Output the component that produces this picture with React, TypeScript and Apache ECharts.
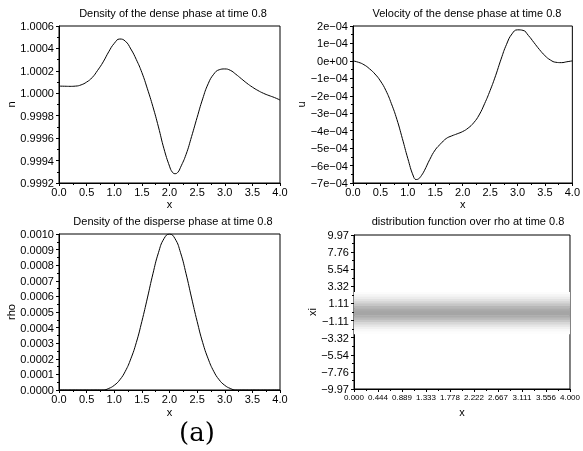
import React, { useEffect, useRef } from "react";
import * as echarts from "echarts";

// ---- data ----
const xDense = [0.0, 0.1, 0.2, 0.3, 0.4, 0.5, 0.6, 0.7, 0.8, 0.9, 1.0, 1.1, 1.2, 1.3, 1.4, 1.5, 1.6, 1.7, 1.8, 1.9, 2.0, 2.05, 2.1, 2.15, 2.2, 2.3, 2.4, 2.5, 2.6, 2.7, 2.8, 2.9, 3.0, 3.1, 3.2, 3.3, 3.4, 3.5, 3.6, 3.7, 3.8, 3.9, 4.0];
const nValues = [1.000064, 1.000063, 1.000062, 1.000064, 1.000075, 1.0001, 1.00014, 1.000205, 1.00028, 1.00037, 1.000445, 1.000484, 1.000465, 1.000395, 1.0003, 1.000185, 1.00004, 0.99988, 0.9997, 0.999505, 0.99935, 0.999298, 0.999283, 0.999295, 0.99934, 0.999455, 0.999615, 0.999785, 0.99995, 1.000085, 1.00017, 1.00021, 1.000217, 1.000205, 1.00017, 1.00013, 1.00009, 1.000055, 1.000025, 1.0, 0.99998, 0.999962, 0.99994];

const xVel = [0.0, 0.1, 0.2, 0.3, 0.4, 0.5, 0.6, 0.7, 0.8, 0.9, 1.0, 1.1, 1.15, 1.2, 1.25, 1.3, 1.4, 1.5, 1.6, 1.7, 1.8, 1.9, 2.0, 2.1, 2.2, 2.3, 2.4, 2.5, 2.6, 2.7, 2.8, 2.9, 3.0, 3.1, 3.2, 3.3, 3.4, 3.5, 3.6, 3.7, 3.8, 3.9, 4.0];
const uValues = [0.0, -0.08e-4, -0.22e-4, -0.45e-4, -0.75e-4, -1.15e-4, -1.7e-4, -2.45e-4, -3.35e-4, -4.45e-4, -5.6e-4, -6.6e-4, -6.8e-4, -6.75e-4, -6.56e-4, -6.3e-4, -5.65e-4, -5.1e-4, -4.75e-4, -4.45e-4, -4.3e-4, -4.18e-4, -4.05e-4, -3.85e-4, -3.55e-4, -3.1e-4, -2.45e-4, -1.7e-4, -0.85e-4, 0.1e-4, 0.95e-4, 1.55e-4, 1.78e-4, 1.75e-4, 1.45e-4, 1.05e-4, 0.65e-4, 0.3e-4, 0.05e-4, -0.08e-4, -0.1e-4, -0.05e-4, 0.0];

const xRho = [0.0, 0.1, 0.2, 0.3, 0.4, 0.5, 0.6, 0.7, 0.8, 0.9, 1.0, 1.1, 1.2, 1.3, 1.4, 1.5, 1.6, 1.7, 1.8, 1.9, 2.0, 2.1, 2.2, 2.3, 2.4, 2.5, 2.6, 2.7, 2.8, 2.9, 3.0, 3.1, 3.2, 3.3, 3.4, 3.5, 3.6, 3.7, 3.8, 3.9, 4.0];
const rhoValues = [0, 0, 0, 0, 0, 0, 0, 0, 0, 0.00001, 0.00003, 0.000065, 0.00012, 0.0002, 0.000305, 0.00044, 0.00059, 0.000745, 0.00088, 0.00097, 0.001, 0.00097, 0.00088, 0.000745, 0.00059, 0.00044, 0.000305, 0.0002, 0.00012, 0.000065, 0.00003, 0.00001, 0, 0, 0, 0, 0, 0, 0, 0, 0];

const xiCenters = [2.4, 2.1, 1.8, 1.5, 1.2, 0.9, 0.6, 0.3, 0.0, -0.3, -0.6, -0.9, -1.2, -1.5, -1.8, -2.1, -2.4, -2.7];
const bandGray = [252, 245, 236, 226, 213, 198, 183, 172, 166, 165, 172, 185, 200, 215, 229, 240, 248, 253];

const titles = [
  "Density of the dense phase at time 0.8",
  "Velocity of the dense phase at time 0.8",
  "Density of the disperse phase at time 0.8",
  "distribution function over rho at time 0.8",
];

const FONT = "Liberation Sans, Arial, Helvetica, sans-serif";
const minus = (s: string) => s.replace(/-/g, "\u2212");

export default function App() {
  const ref = useRef<HTMLDivElement>(null);
  useEffect(() => {
    if (!ref.current) return;
    const chart = echarts.init(ref.current, undefined, { renderer: "svg" });

    const grids = [
      { left: 59, top: 26, width: 221, height: 157 },
      { left: 353, top: 26, width: 221, height: 157 },
      { left: 59, top: 234, width: 221, height: 156 },
      { left: 354, top: 235, width: 220, height: 154 },
    ].map((g) => ({ ...g, show: true, borderColor: "#000", borderWidth: 1, backgroundColor: "transparent" }));

    const common = (gi: number) => ({
      gridIndex: gi,
      type: "value" as const,
      axisLine: { show: true, onZero: false, lineStyle: { color: "#000", width: 1 } },
      axisTick: { show: true, length: 3, inside: false, lineStyle: { color: "#000" } },
      minorTick: { show: true, splitNumber: 2, length: 2, lineStyle: { color: "#000" } },
      splitLine: { show: false },
      nameTextStyle: { color: "#000", fontSize: 11, fontFamily: FONT },
    });

    const xAxisStd = (gi: number, gap: number) => ({
      ...common(gi),
      min: 0,
      max: 4,
      interval: 0.5,
      name: "x",
      nameLocation: "middle",
      nameGap: gap,
      axisLabel: { color: "#000", fontSize: 11, fontFamily: FONT, margin: 3, formatter: (v: number) => v.toFixed(1) },
    });

    const xAxes = [
      xAxisStd(0, 15),
      xAxisStd(1, 15),
      xAxisStd(2, 16),
      {
        ...common(3),
        min: 0,
        max: 4,
        interval: 4 / 9,
        name: "x",
        nameLocation: "middle",
        nameGap: 17,
        axisLabel: { color: "#000", fontSize: 8, fontFamily: FONT, margin: 4, formatter: (v: number) => v.toFixed(3) },
      },
    ];

    const yAxes = [
      {
        ...common(0),
        min: 0.9992,
        max: 1.0006,
        interval: 0.0002,
        name: "n",
        nameLocation: "middle",
        nameGap: 39,
        axisLabel: { color: "#000", fontSize: 11, fontFamily: FONT, margin: 5, formatter: (v: number) => v.toFixed(4) },
      },
      {
        ...common(1),
        min: -7e-4,
        max: 2e-4,
        interval: 1e-4,
        name: "u",
        nameLocation: "middle",
        nameGap: 42,
        axisLabel: {
          color: "#000",
          fontSize: 11,
          fontFamily: FONT,
          margin: 5,
          formatter: (v: number) => {
            const k = Math.round(v * 1e4);
            if (k === 0) return "0e+00";
            return (k < 0 ? "\u2212" : "") + Math.abs(k) + "e\u221204";
          },
        },
      },
      {
        ...common(2),
        min: 0,
        max: 0.001,
        interval: 0.0001,
        name: "rho",
        nameLocation: "middle",
        nameGap: 39,
        axisLabel: { color: "#000", fontSize: 11, fontFamily: FONT, margin: 5, formatter: (v: number) => v.toFixed(4) },
      },
      {
        ...common(3),
        min: -9.972,
        max: 9.972,
        interval: (2 * 9.972) / 9,
        name: "xi",
        nameLocation: "middle",
        nameGap: 37,
        axisLabel: { color: "#000", fontSize: 11, fontFamily: FONT, margin: 5, formatter: (v: number) => minus(v.toFixed(2)) },
      },
    ];

    const lineStyle = { color: "#000", width: 1 };
    const bandData = xiCenters.map((c, i) => [0, c - 0.15, c + 0.15, bandGray[i]]);

    const titleCenters = [
      [173, 13],
      [467, 13],
      [173, 221],
      [468, 221],
    ];

    chart.setOption({
      animation: false,
      grid: grids,
      xAxis: xAxes,
      yAxis: yAxes,
      graphic: [
        ...titles.map((t, i) => ({
          type: "text",
          x: titleCenters[i][0],
          y: titleCenters[i][1],
          style: { text: t, fill: "#000", font: `11px ${FONT}`, textAlign: "center", textVerticalAlign: "middle" },
        })),
        {
          type: "text",
          x: 197,
          y: 432,
          style: { text: "(a)", fill: "#000", font: `26px "DejaVu Serif", serif`, textAlign: "center", textVerticalAlign: "middle" },
        },
      ],
      series: [
        {
          type: "line",
          xAxisIndex: 0,
          yAxisIndex: 0,
          data: xDense.map((x, i) => [x, nValues[i]]),
          showSymbol: false,
          smooth: true,
          lineStyle,
        },
        {
          type: "line",
          xAxisIndex: 1,
          yAxisIndex: 1,
          data: xVel.map((x, i) => [x, uValues[i]]),
          showSymbol: false,
          smooth: true,
          lineStyle,
        },
        {
          type: "line",
          xAxisIndex: 2,
          yAxisIndex: 2,
          data: xRho.map((x, i) => [x, rhoValues[i]]),
          showSymbol: false,
          smooth: true,
          lineStyle,
        },
        {
          type: "custom",
          xAxisIndex: 3,
          yAxisIndex: 3,
          clip: true,
          encode: { x: 0, y: [1, 2] },
          data: bandData,
          renderItem: (params: any, api: any) => {
            const lo = api.value(1);
            const hi = api.value(2);
            const g = api.value(3);
            const p1 = api.coord([0, hi]);
            const p2 = api.coord([4, lo]);
            return {
              type: "rect",
              shape: { x: p1[0], y: p1[1] - 0.3, width: p2[0] - p1[0], height: p2[1] - p1[1] + 0.6 },
              style: { fill: `rgb(${g},${g},${g})` },
            };
          },
        },
      ],
    });
    return () => chart.dispose();
  }, []);
  return <div ref={ref} style={{ position: "fixed", left: 0, top: 0, width: 583, height: 451 }} />;
}
